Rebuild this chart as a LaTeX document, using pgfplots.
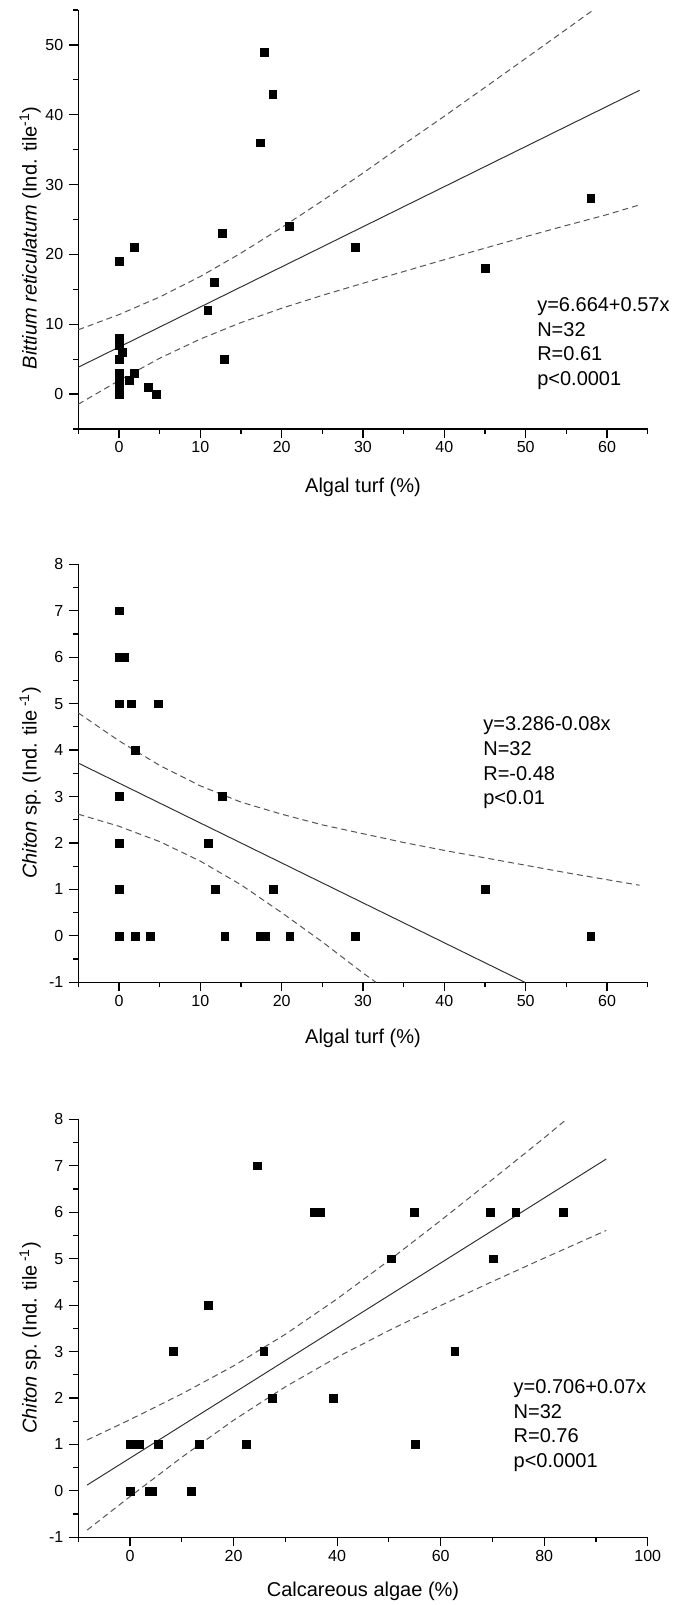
\documentclass[border=0pt]{standalone}
\usepackage{fontspec}
\setmainfont{Liberation Sans}
\usepackage{pgfplots}
\pgfplotsset{compat=1.18}
\newcommand{\tickfont}{\fontsize{16bp}{19bp}\selectfont}
\newcommand{\labfont}{\fontsize{20bp}{24bp}\selectfont}
\definecolor{reg}{HTML}{333333}
\definecolor{band}{HTML}{555555}
\tikzset{ann/.style={anchor=base west, inner sep=0pt, font=\labfont}}
\pgfplotsset{
  panel/.style={
    scale only axis, width=569.4bp,
    anchor=south west,
    axis lines=left,
    axis line style={-, line width=1.2bp, black},
    tick align=outside,
    major tick length=9bp, minor tick length=5bp,
    tick style={line width=1.2bp, black},
    tick label style={font=\tickfont},
    yticklabel style={xshift=-2.5bp},
    label style={font=\labfont},
    /pgf/number format/assume math mode=true,
    clip=false,
  },
  pts/.style={only marks, mark=square*, mark size=3.9bp, black},
  regline/.style={no marks, reg, line width=1bp},
  bandline/.style={no marks, band, line width=1bp, dash pattern=on 6bp off 4bp},
}
\begin{document}
\begin{tikzpicture}
\path[use as bounding box] (0,0) rectangle (676bp,-1605bp);
% ---------------- Panel 1 ----------------
\begin{axis}[panel, at={(78.3bp,-429bp)}, height=419bp,
  xmin=-5, xmax=65, ymin=-5, ymax=55,
  xtick={0,10,...,60}, minor xtick={-5,5,...,65},
  ytick={0,10,...,50}, minor ytick={-5,5,...,55},
  xlabel={Algal turf (\%)},
  ylabel={\textit{Bittium reticulatum} (Ind. tile\textsuperscript{-1})},
  xlabel style={at={(axis description cs:0.5,-0.138)}, anchor=center},
  ylabel style={at={(axis description cs:-0.0845,0.456)}, anchor=center},
]
\addplot[bandline] coordinates {(-5,9.21) (0,11.38) (5,13.90) (10,16.84) (15,20.19) (20,23.84) (25,27.68) (30,31.65) (35,35.76) (40,39.79) (45,43.92) (50,48.07) (55,52.24) (58.3,55.0)};
\addplot[bandline] coordinates {(-5,-1.45) (0,1.94) (5,5.13) (10,7.88) (15,10.24) (20,12.29) (25,14.14) (30,15.87) (35,17.55) (40,19.25) (45,20.9) (50,22.55) (55,24.15) (60,25.7) (64,27.1)};
\addplot[regline] coordinates {(-5,3.85) (64,43.5)};
\addplot[pts] coordinates {
(0,19) (1.9,21) (12.7,23) (11.7,16) (10.9,12) (12.9,5) (17.4,36) (17.9,49) (18.9,43) (20.9,24)
(29.0,21) (45.0,18) (58.0,28) (0,8) (0,7) (0.4,6) (0,5) (0,3) (0,2) (0,1) (0,0)
(1.3,2) (1.9,3) (3.6,1) (4.6,0) (0,0) (0,1) (0,2) (0,3) (0,8) (0,7) (0,5)};
\node[ann] at (axis cs:51.4,11.83) {y=6.664+0.57x};
\node[ann] at (axis cs:51.4,8.29) {N=32};
\node[ann] at (axis cs:51.4,4.75) {R=0.61};
\node[ann] at (axis cs:51.4,1.20) {p<0.0001};
\end{axis}
% ---------------- Panel 2 ----------------
\begin{axis}[panel, at={(78.3bp,-982.3bp)}, height=418bp,
  xmin=-5, xmax=65, ymin=-1, ymax=8,
  xtick={0,10,...,60}, minor xtick={-5,5,...,65},
  ytick={-1,0,...,8}, minor ytick={-0.5,0.5,...,7.5},
  xlabel={Algal turf (\%)},
  ylabel={\textit{Chiton} sp.\ (Ind. tile\,\textsuperscript{-1})},
  xlabel style={at={(axis description cs:0.5,-0.135)}, anchor=center},
  ylabel style={at={(axis description cs:-0.0845,0.477)}, anchor=center},
]
\addplot[bandline] coordinates {(-5,4.80) (0,4.20) (5,3.67) (10,3.23) (15,2.88) (20,2.62) (25,2.39) (30,2.20) (35,2.01) (40,1.84) (45,1.68) (50,1.52) (55,1.36) (60,1.21) (64,1.09)};
\addplot[bandline] coordinates {(-5,2.62) (0,2.36) (5,2.03) (10,1.61) (15,1.10) (20,0.50) (25,-0.13) (30,-0.80) (31.6,-1.0)};
\addplot[regline] coordinates {(-5,3.72) (49.9,-1.0)};
\addplot[pts] coordinates {
(0,7) (0,6) (0.6,6) (0,5) (1.5,5) (4.8,5) (2,4) (0,3) (12.7,3) (0,2) (11,2)
(0,1) (11.8,1) (19,1) (45,1) (0,0) (2,0) (3.8,0) (13,0) (17.4,0) (18,0) (21,0) (29,0) (58,0)
(0,0) (0,0) (0,0) (0,1) (0,2) (0,3) (0,5) (0,6)};
\node[ann] at (axis cs:44.77,4.419) {y=3.286-0.08x};
\node[ann] at (axis cs:44.77,3.887) {N=32};
\node[ann] at (axis cs:44.77,3.355) {R=-0.48};
\node[ann] at (axis cs:44.77,2.823) {p<0.01};
\end{axis}
% ---------------- Panel 3 ----------------
\begin{axis}[panel, at={(78.3bp,-1537.3bp)}, height=418bp,
  xmin=-10, xmax=100, ymin=-1, ymax=8,
  xtick={0,20,...,100}, minor xtick={-10,10,...,90},
  ytick={-1,0,...,8}, minor ytick={-0.5,0.5,...,7.5},
  xlabel={Calcareous algae (\%)},
  ylabel={\textit{Chiton} sp.\ (Ind. tile\,\textsuperscript{-1})},
  xlabel style={at={(axis description cs:0.5,-0.130)}, anchor=center},
  ylabel style={at={(axis description cs:-0.0845,0.477)}, anchor=center},
]
\addplot[bandline] coordinates {(-8.3,1.095) (0,1.534) (10,2.088) (20,2.691) (30,3.371) (40,4.134) (50,4.959) (60,5.821) (70,6.705) (80,7.600) (84.3,8.0)};
\addplot[bandline] coordinates {(-8.3,-0.845) (0,-0.122) (10,0.724) (20,1.521) (30,2.241) (40,2.878) (50,3.453) (60,3.991) (70,4.507) (80,5.012) (92,5.608)};
\addplot[regline] coordinates {(-8.3,0.125) (92,7.146)};
\addplot[pts] coordinates {
(24.6,7) (35.6,6) (36.7,6) (54.9,6) (69.6,6) (74.5,6) (83.6,6) (50.5,5) (70.1,5) (15.1,4)
(8.4,3) (25.8,3) (62.7,3) (27.5,2) (39.3,2) (0.1,1) (1.7,1) (5.5,1) (13.4,1) (22.4,1) (55.1,1)
(0,0) (3.6,0) (4.2,0) (11.8,0) (0,0) (0.1,1) (35.6,6) (36.7,6) (3.6,0) (4.2,0) (1.7,1)};
\node[ann] at (axis cs:74.07,2.099) {y=0.706+0.07x};
\node[ann] at (axis cs:74.07,1.568) {N=32};
\node[ann] at (axis cs:74.07,1.036) {R=0.76};
\node[ann] at (axis cs:74.07,0.504) {p<0.0001};
\end{axis}
\end{tikzpicture}
\end{document}
